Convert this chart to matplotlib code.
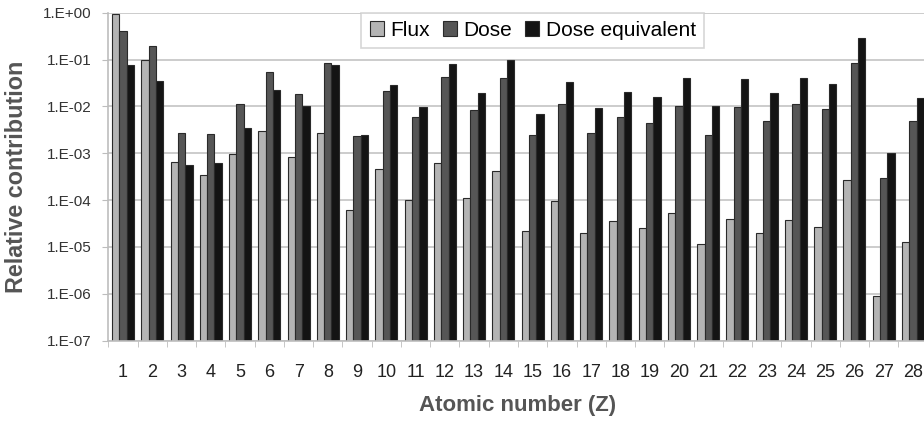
import matplotlib
matplotlib.use("Agg")
import matplotlib.pyplot as plt
import numpy as np
from matplotlib.ticker import FixedLocator, NullFormatter

plt.rcParams['font.family'] = ['Liberation Sans', 'DejaVu Sans']

# atomic numbers
z = list(range(1, 29))

# relative contributions
flux = [0.94, 0.10, 6.6e-4, 3.5e-4, 9.5e-4, 3.0e-3, 8.2e-4, 2.75e-3, 6.2e-5, 4.6e-4,
        1.0e-4, 6.3e-4, 1.1e-4, 4.2e-4, 2.2e-5, 9.5e-5, 1.95e-5, 3.6e-5, 2.5e-5, 5.2e-5,
        1.15e-5, 3.95e-5, 2.0e-5, 3.8e-5, 2.7e-5, 2.7e-4, 8.9e-7, 1.3e-5]
dose = [0.41, 0.19, 2.75e-3, 2.6e-3, 0.0112, 0.055, 0.018, 0.086, 2.3e-3, 0.0216,
        5.9e-3, 0.043, 8.5e-3, 0.040, 2.5e-3, 0.0112, 2.75e-3, 5.9e-3, 4.4e-3, 0.0102,
        2.5e-3, 9.8e-3, 5.0e-3, 0.0110, 8.7e-3, 0.083, 2.9e-4, 5.0e-3]
dose_eq = [0.077, 0.035, 5.6e-4, 6.3e-4, 3.5e-3, 0.0224, 0.0102, 0.075, 2.45e-3, 0.028,
           9.6e-3, 0.079, 0.019, 0.098, 6.9e-3, 0.034, 9.1e-3, 0.0203, 0.016, 0.040,
           0.0102, 0.038, 0.019, 0.040, 0.030, 0.284, 1.0e-3, 0.015]

series = [("Flux", flux, "#b4b4b4"), ("Dose", dose, "#565656"), ("Dose equivalent", dose_eq, "#141414")]

fig = plt.figure(figsize=(9.24, 4.21), dpi=100)
W, H = 924.0, 421.0
ax = fig.add_axes([108.4 / W, 1 - 340.7 / H, 819.2 / W, 328.0 / H])

x = np.array(z, dtype=float)
w = 0.25
for i, (name, vals, col) in enumerate(series):
    ax.bar(x + (i - 1) * w, vals, width=w, color=col, edgecolor="#2a2a2a",
           linewidth=0.8, label=name, zorder=2)

ax.set_yscale("log")
ax.set_ylim(1e-7, 1)
ax.set_xlim(0.5, 28.5)

yt = [10.0 ** k for k in range(-7, 1)]
ax.yaxis.set_major_locator(FixedLocator(yt))
ax.yaxis.set_minor_locator(FixedLocator([]))
ax.set_yticklabels(["1.E%+03d" % k for k in range(-7, 1)])
ax.set_xticks(z)
ax.set_xticklabels([str(v) for v in z])
ax.xaxis.set_minor_locator(FixedLocator(np.arange(0.5, 29, 1.0)))
ax.xaxis.set_minor_formatter(NullFormatter())

ax.grid(axis="y", color="#c8c8c8", linewidth=1.3, zorder=0)
ax.set_axisbelow(True)
for s in ["top", "right"]:
    ax.spines[s].set_visible(False)
for s in ["left", "bottom"]:
    ax.spines[s].set_color("#bdbdbd")
    ax.spines[s].set_linewidth(1.2)

ax.tick_params(axis="y", which="major", length=4, color="#bdbdbd", pad=8,
               labelsize=11, labelcolor="#333333")
ax.tick_params(axis="x", which="major", length=0, pad=17, labelsize=13, labelcolor="#222222")
ax.tick_params(axis="x", which="minor", length=4, color="#bdbdbd")

ax.set_ylabel("Relative contribution", fontsize=16.8, fontweight="bold", color="#555555")
ax.yaxis.set_label_coords((28.0 - 108.4) / 819.2, 0.5)
ax.set_xlabel("Atomic number (Z)", fontsize=16, fontweight="bold", color="#555555", labelpad=10)

leg = ax.legend(loc="upper center", bbox_to_anchor=(0.518, 1.0), ncol=3, fontsize=15,
                frameon=True, fancybox=False, edgecolor="#cccccc", handlelength=0.7,
                handleheight=0.7, handletextpad=0.3, columnspacing=0.6, borderpad=0.4,
                borderaxespad=0.0)
leg.get_frame().set_linewidth(1.2)

fig.savefig("out.png", dpi=100)
